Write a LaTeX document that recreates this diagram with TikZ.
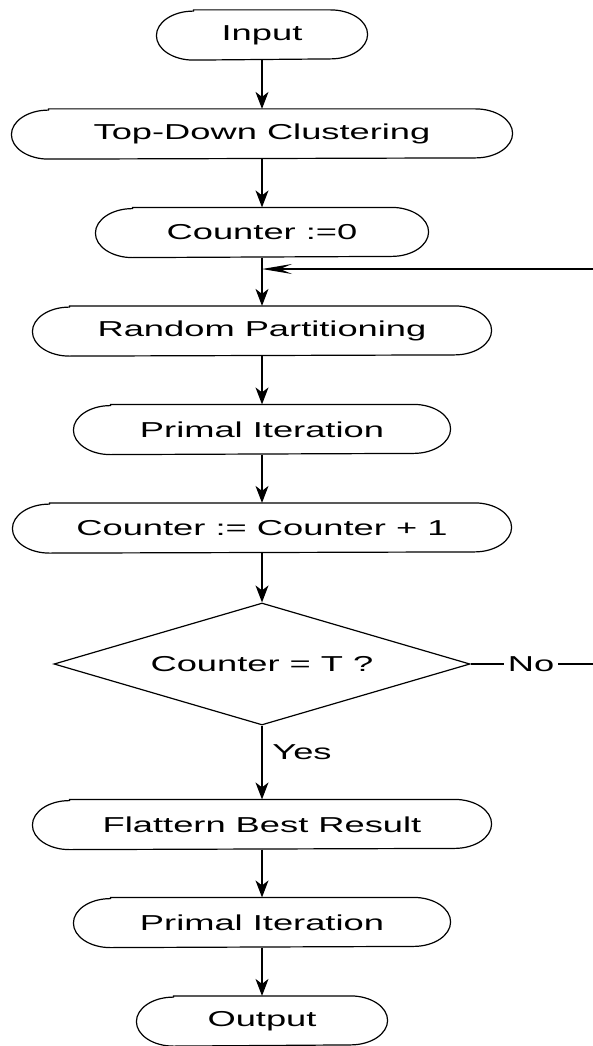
\documentclass[tikz,border=0pt]{standalone}
\usepackage{fontspec}
\setmainfont[FakeStretch=1.68]{Liberation Sans}
\usetikzlibrary{shapes.geometric,arrows.meta}

\begin{document}
\begin{tikzpicture}[x=1pt,y=-1pt,line width=1.2pt,font=\fontsize{21.6}{26}\selectfont]
\tikzstyle{pill} = [inner sep=0, minimum height=49pt]
\tikzstyle{freccia} = [-{Stealth[length=17pt,width=13pt,inset=5pt]}]
\tikzstyle{ritorno} = [-{Stealth[length=30pt,width=10pt,inset=12pt]}]

\useasboundingbox (0,0) rectangle (592,1046);

% Raggi delle estremita
\def\rx{37pt}
\def\ry{24.5pt}

% Blocchi arrotondati
\foreach \name/\y/\w/\txt in {inp/35/210/Input, tdc/134/500/Top-Down Clustering,
    cnt/232.5/332/Counter :=0, rnd/331/458/Random Partitioning,
    pri/429.5/376/Primal Iteration, inc/528/498/Counter := Counter + 1,
    flt/824.5/458/Flattern Best Result, prf/922.5/376/Primal Iteration,
    out/1021/250/Output} {
  \pgfmathsetmacro\lw{\w-74}
  \node[pill, minimum width=\lw pt] (\name) at (262,\y) {\txt};
  \draw (\name.north west) -- (\name.north east)
    arc[start angle=90, end angle=-90, x radius=\rx, y radius=\ry]
    -- (\name.south west)
    arc[start angle=-90, end angle=-270, x radius=\rx, y radius=\ry] -- cycle;
}

% Decisione
\node[draw, diamond, aspect=3.4, minimum width=416pt, minimum height=122pt, inner sep=0] (dec) at (262,664) {Counter = T ?};
\node (yes) at (302,752) {Yes};
\node (no) at (531,664) {No};

% Frecce
\foreach \a/\b in {inp/tdc, tdc/cnt, cnt/rnd, rnd/pri, pri/inc, inc/dec, dec/flt, flt/prf, prf/out} {
  \draw[freccia] (\a) -- (\b);
}

% Ritorno
\coordinate (dx) at (600,664);
\coordinate (jn) at (262,269);
\draw (dec.east) -- (no);
\draw[ritorno] (no) -- (dx) |- (jn);

\end{tikzpicture}
\end{document}
